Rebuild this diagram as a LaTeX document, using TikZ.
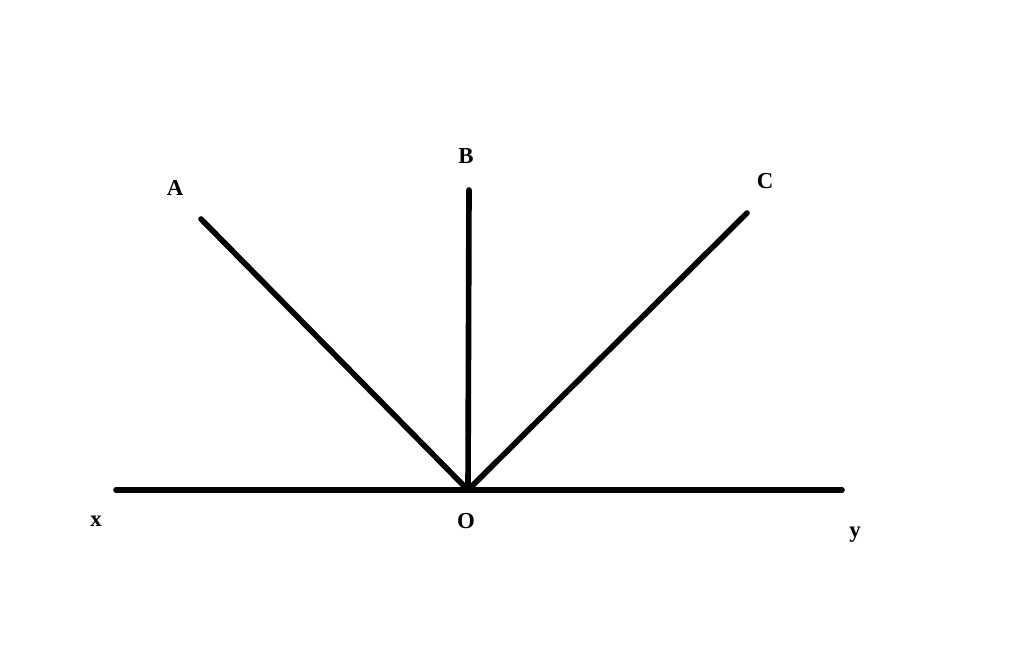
\documentclass[tikz,border=0pt]{standalone}
\usepackage{fontspec}
\setmainfont{Liberation Serif}
\usetikzlibrary{positioning}

\begin{document}
\begin{tikzpicture}[x=0.02cm,y=-0.02cm]
            \useasboundingbox (0,0) rectangle (1024,659);
            \tikzset{ray/.style={line width=3.2pt, line cap=round},
                     lbl/.style={font=\fontsize{13}{15}\selectfont\bfseries, inner sep=0pt}}
            \coordinate (o) at (468,490);
            \coordinate (xend) at (116,490);
            \coordinate (yend) at (842,490);
            \coordinate (aend) at (201,219);
            \coordinate (bend) at (469,190);
            \coordinate (cend) at (747,213);
            
            \node[lbl] (xlbl) at (96,521) {x};
            \node[lbl] (olbl) at (466,521) {O};
            \node[lbl] (ylbl) at (855,535) {y};
            \node[lbl] (albl) at (175,188) {A};
            \node[lbl] (blbl) at (466,156) {B};
            \node[lbl] (clbl) at (765,181) {C};
            
            \draw[ray] (xend) -- (yend);
            \draw[ray] (o) -- (aend);
            \draw[ray] (o) -- (bend);
            \draw[ray] (o) -- (cend);
        \end{tikzpicture}
\end{document}
